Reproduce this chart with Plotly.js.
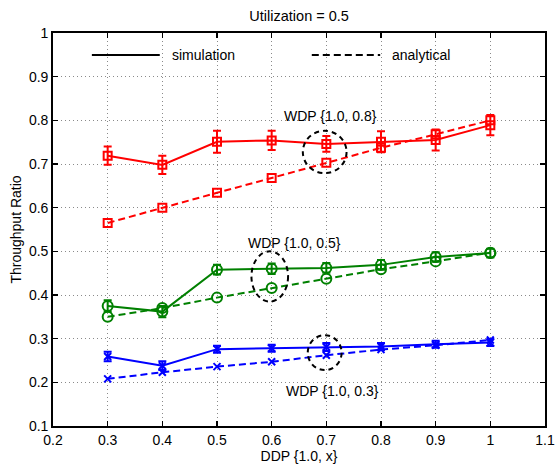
<!DOCTYPE html>
<html>
<head>
<meta charset="utf-8">
<script src="https://cdn.plot.ly/plotly-3.0.1.min.js"></script>
<style>
  html, body { margin: 0; padding: 0; background: #fff; }
  #chart { width: 556px; height: 464px; }
</style>
</head>
<body>
<div id="chart"></div>
<script>
// ---- data ----
const ddp = [0.3, 0.4, 0.5, 0.6, 0.7, 0.8, 0.9, 1.0];

const redSim    = [0.719, 0.698, 0.751, 0.754, 0.746, 0.751, 0.755, 0.789];
const redSimErr = [0.021, 0.021, 0.025, 0.022, 0.018, 0.024, 0.024, 0.023];
const redAna    = [0.565, 0.600, 0.634, 0.668, 0.703, 0.737, 0.768, 0.800];

const greenSim    = [0.375, 0.362, 0.458, 0.460, 0.462, 0.469, 0.487, 0.496];
const greenSimErr = [0.013, 0.013, 0.011, 0.012, 0.011, 0.011, 0.011, 0.010];
const greenAna    = [0.350, 0.370, 0.394, 0.416, 0.437, 0.459, 0.477, 0.497];

const blueSim    = [0.259, 0.238, 0.276, 0.278, 0.281, 0.282, 0.287, 0.291];
const blueSimErr = [0.011, 0.010, 0.008, 0.008, 0.009, 0.008, 0.008, 0.008];
const blueAna    = [0.208, 0.223, 0.236, 0.247, 0.262, 0.275, 0.285, 0.297];

const titleText = "Utilization = 0.5";
const xTitle = "DDP {1.0, x}";
const yTitle = "Throughput Ratio";
const legendLabels = ["simulation", "analytical"];
const wdpLabels = ["WDP {1.0, 0.8}", "WDP {1.0, 0.5}", "WDP {1.0, 0.3}"];

// ---- styling ----
const RED = "#ff0000", GREEN = "#008000", BLUE = "#0000ff";
const DASH = "7px,4px";
const FONT = "Liberation Sans, Arial, Helvetica, sans-serif";

function simTrace(y, err, color, symbol, size) {
  return {
    x: ddp, y: y, type: "scatter", mode: "lines+markers",
    line: {color: color, width: 2},
    marker: {symbol: symbol, size: size, color: color, line: {color: color, width: 2}},
    error_y: {type: "data", array: err, visible: true, color: color, thickness: 2, width: 4},
    showlegend: false, hoverinfo: "skip"
  };
}
function anaTrace(y, color, symbol, size) {
  return {
    x: ddp, y: y, type: "scatter", mode: "lines+markers",
    line: {color: color, width: 2, dash: DASH},
    marker: {symbol: symbol, size: size, color: color, line: {color: color, width: 2}},
    showlegend: false, hoverinfo: "skip"
  };
}

const data = [
  simTrace(redSim, redSimErr, RED, "square-open", 8),
  anaTrace(redAna, RED, "square-open", 8),
  simTrace(greenSim, greenSimErr, GREEN, "circle-open", 10),
  anaTrace(greenAna, GREEN, "circle-open", 10),
  simTrace(blueSim, blueSimErr, BLUE, "x-thin-open", 7),
  anaTrace(blueAna, BLUE, "x-thin-open", 7)
];

const circleLine = {color: "#000", width: 2, dash: "5px,4px"};
const shapes = [
  // highlight ellipses (data coords)
  {type: "circle", xref: "x", yref: "y", x0: 0.657, x1: 0.737, y0: 0.679, y1: 0.776, line: circleLine},
  {type: "circle", xref: "x", yref: "y", x0: 0.563, x1: 0.630, y0: 0.385, y1: 0.500, line: circleLine},
  {type: "circle", xref: "x", yref: "y", x0: 0.666, x1: 0.728, y0: 0.228, y1: 0.308, line: circleLine},
  // legend samples
  {type: "line", xref: "paper", yref: "paper", x0: 0.079, x1: 0.217, y0: 0.944, y1: 0.944,
   line: {color: "#000", width: 2}},
  {type: "line", xref: "paper", yref: "paper", x0: 0.526, x1: 0.665, y0: 0.944, y1: 0.944,
   line: {color: "#000", width: 2, dash: DASH}}
];

const annFont = {family: FONT, size: 14, color: "#000"};
const annotations = [
  {xref: "x", yref: "y", x: 0.708, y: 0.810, text: wdpLabels[0], showarrow: false, font: annFont},
  {xref: "x", yref: "y", x: 0.642, y: 0.519, text: wdpLabels[1], showarrow: false, font: annFont},
  {xref: "x", yref: "y", x: 0.712, y: 0.181, text: wdpLabels[2], showarrow: false, font: annFont},
  {xref: "paper", yref: "paper", x: 0.238, y: 0.944, xanchor: "left", yanchor: "middle",
   text: legendLabels[0], showarrow: false, font: annFont},
  {xref: "paper", yref: "paper", x: 0.685, y: 0.944, xanchor: "left", yanchor: "middle",
   text: legendLabels[1], showarrow: false, font: annFont}
];

const axisCommon = {
  showline: true, linecolor: "#000", linewidth: 1.8, mirror: "ticks",
  ticks: "inside", ticklen: 5, tickwidth: 1.2, tickcolor: "#000",
  showgrid: true, gridcolor: "#8a8a8a", gridwidth: 1, griddash: "1px,3px",
  zeroline: false, tickfont: {family: FONT, size: 14, color: "#000"}
};

const layout = {
  width: 556, height: 464,
  margin: {l: 53, r: 11, t: 33, b: 38},
  paper_bgcolor: "#fff", plot_bgcolor: "#fff",
  font: {family: FONT, size: 14, color: "#000"},
  title: {text: titleText, font: {family: FONT, size: 14.5, color: "#000"},
          x: 0.538, xanchor: "center", y: 0.965, yanchor: "middle"},
  xaxis: Object.assign({}, axisCommon, {
    range: [0.2, 1.1], tick0: 0.2, dtick: 0.1,
    title: {text: xTitle, font: {family: FONT, size: 14, color: "#000"}, standoff: 1}
  }),
  yaxis: Object.assign({}, axisCommon, {
    range: [0.1, 1.0], tick0: 0.1, dtick: 0.1,
    title: {text: yTitle, font: {family: FONT, size: 14, color: "#000"}, standoff: 4}
  }),
  shapes: shapes,
  annotations: annotations,
  showlegend: false
};

Plotly.newPlot("chart", data, layout, {staticPlot: true, displayModeBar: false});
</script>
</body>
</html>
